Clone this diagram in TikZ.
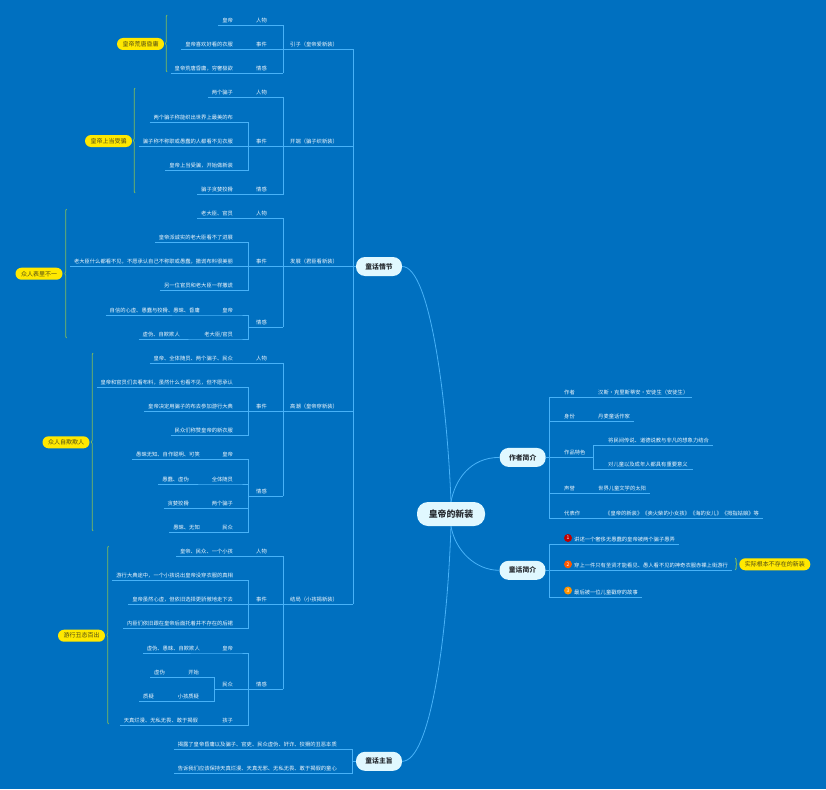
\documentclass[tikz,border=0pt]{standalone}
\usepackage{fontspec}
\setmainfont{Noto Sans CJK SC}
\usepackage{xcolor}
\usetikzlibrary{decorations.pathreplacing}
\definecolor{BackBlue}{RGB}{0, 112, 192}
\definecolor{LinkBlue}{RGB}{72, 178, 248}
\definecolor{PaleText}{RGB}{240, 247, 252}
\definecolor{RootFill}{RGB}{224, 248, 255}
\definecolor{DarkText}{RGB}{40, 45, 50}
\definecolor{NoteYellow}{RGB}{255, 232, 0}
\definecolor{NoteText}{RGB}{80, 75, 20}
\definecolor{BraceGreen}{RGB}{130, 190, 90}
\tikzset{
  small text/.style={font=\fontsize{5.3}{6}\selectfont, text=PaleText, text height=4.6, text depth=0.6, inner ysep=2.2},
  leaf/.style={small text, anchor=south east, inner xsep=3.8},
  topic/.style={small text, anchor=south west, inner xsep=7.5, text width=19.5, align=left},
  branch/.style={small text, anchor=south west, inner xsep=7, text width=56, align=left},
  rlabel/.style={small text, anchor=south west, inner xsep=14.7},
  rvalue/.style={small text, anchor=south west, inner xsep=3.8},
  link/.style={draw=LinkBlue, line width=0.8pt},
  rootnode/.style={fill=RootFill, text=DarkText, font=\fontsize{6.8}{8}\selectfont\bfseries, minimum width=46, minimum height=19, rounded corners=9, inner sep=0},
  callout/.style={fill=NoteYellow, text=NoteText, font=\fontsize{6}{7}\selectfont, minimum height=12, inner xsep=5.5, inner ysep=0, rounded corners=6},
  bracket/.style={draw=BraceGreen, line width=0.8pt, decorate, decoration={brace, amplitude=1.6pt}},
  badge/.style={circle, text=white, font=\fontsize{5}{6}\selectfont, minimum size=8, inner sep=0}
}
\begin{document}
\begin{tikzpicture}[x=1pt, y=-1pt]
  \useasboundingbox (0,0) rectangle (826,789);
  \fill[BackBlue] (0,0) rectangle (826,789);

  \node[rootnode, font=\fontsize{8.9}{10}\selectfont\bfseries, minimum width=68, minimum height=24, rounded corners=11] (root) at (451,514) {皇帝的新装};
  \node[rootnode] (plot) at (379,266.5) {童话情节};
  \node[rootnode] (theme) at (379,761.3) {童话主旨};
  \node[rootnode] (author) at (522.7,457.4) {作者简介};
  \node[rootnode] (brief) at (522.5,570.3) {童话简介};
  \draw[link] (plot.east) .. controls (430,266.5) and (447,400) .. (root.north);
  \draw[link] (theme.east) .. controls (430,761.3) and (447,640) .. (root.south);
  \draw[link] (root.north) .. controls (455,480) and (470,457.4) .. (author.west);
  \draw[link] (root.south) .. controls (455,550) and (475,570.3) .. (brief.west);

  \node[branch] (intro) at (283,49.5) {引子（皇帝爱新装）};
  \node[branch] (opening) at (283,146) {开端（骗子织新装）};
  \node[branch] (rising) at (283,266.5) {发展（君臣看新装）};
  \node[branch] (climax) at (283,411.3) {高潮（皇帝穿新装）};
  \node[branch] (ending) at (283,604.3) {结局（小孩揭新装）};
  \draw[link] (intro.south east) -- (ending.south east);
  \draw[link] (rising.south east) -- (plot.west);

  % 引子
  \node[topic] (introWho) at (248.5,25.3) {人物};
  \node[topic] (introEvent) at (248.5,49.5) {事件};
  \node[topic] (introFeel) at (248.5,73.3) {情感};
  \node[leaf] (introA) at (237,25.3) {皇帝};
  \node[leaf] (introB) at (237,49.5) {皇帝喜欢好看的衣服};
  \node[leaf] (introC) at (237,73.3) {皇帝荒唐昏庸，穷奢极欲};
  \draw[link] (introA.south west) -- (introWho.south east) -- (introFeel.south east);
  \draw[link] (introB.south west) -- (intro.south east);
  \draw[link] (introC.south west) -- (introFeel.south east);
  \node[callout] (noteIntro) at (140.5,44) {皇帝荒唐昏庸};
  \coordinate (noteIntroA) at (167,72);
  \coordinate (noteIntroB) at (167,15);
  \draw[bracket] (noteIntroA) -- (noteIntroB);

  % 开端
  \node[topic] (openWho) at (248.5,97.5) {人物};
  \node[topic] (openEvent) at (248.5,146) {事件};
  \node[topic] (openFeel) at (248.5,194.5) {情感};
  \node[leaf] (openA) at (237,97.5) {两个骗子};
  \node[leaf] (openB) at (237,122) {两个骗子称能织出世界上最美的布};
  \node[leaf] (openC) at (237,146) {骗子称不称职或愚蠢的人都看不见衣服};
  \node[leaf] (openD) at (237,170.5) {皇帝上当受骗，开始做新装};
  \node[leaf] (openE) at (237,194.5) {骗子贪婪狡猾};
  \draw[link] (openA.south west) -- (openWho.south east) -- (openFeel.south east);
  \draw[link] (openB.south west) -| (openEvent.south west);
  \draw[link] (openC.south west) -- (opening.south east);
  \draw[link] (openD.south west) -| (openEvent.south west);
  \draw[link] (openE.south west) -- (openFeel.south east);
  \node[callout] (noteOpen) at (108.5,141) {皇帝上当受骗};
  \coordinate (noteOpenA) at (135,193);
  \coordinate (noteOpenB) at (135,88);
  \draw[bracket] (noteOpenA) -- (noteOpenB);

  % 发展
  \node[topic] (riseWho) at (248.5,218.3) {人物};
  \node[topic] (riseEvent) at (248.5,266.5) {事件};
  \node[topic] (riseFeel) at (248.5,327.3) {情感};
  \node[leaf] (riseA) at (237,218.3) {老大臣、官员};
  \node[leaf] (riseB) at (237,242.3) {皇帝派诚实的老大臣看不了进展};
  \node[leaf] (riseC) at (237,266.5) {老大臣什么都看不见，不愿承认自己不称职或愚蠢，撒谎布料很美丽};
  \node[leaf] (riseD) at (237,290.7) {另一位官员和老大臣一样撒谎};
  \node[leaf] (riseE) at (203.8,315) {自信的心虚、愚蠢与狡猾、愚昧、昏庸};
  \node[leaf] (riseEn) at (237,315) {皇帝};
  \node[leaf] (riseF) at (183.8,339) {虚伪、自欺欺人};
  \node[leaf] (riseFn) at (237,339) {老大臣/官员};
  \draw[link] (riseA.south west) -- (riseWho.south east) -- (riseFeel.south east);
  \draw[link] (riseB.south west) -| (riseEvent.south west);
  \draw[link] (riseC.south west) -- (plot.west);
  \draw[link] (riseD.south west) -| (riseEvent.south west);
  \draw[link] (riseE.south west) -- (riseEn.south east) -| (riseFeel.south west);
  \draw[link] (riseF.south west) -- (riseFn.south east) -| (riseFeel.south west);
  \draw[link] (riseFeel.south west) -- (riseFeel.south east);
  \node[callout] (noteRise) at (39,273.7) {众人表里不一};
  \coordinate (noteRiseA) at (66.5,338);
  \coordinate (noteRiseB) at (66.5,209);
  \draw[bracket] (noteRiseA) -- (noteRiseB);

  % 高潮
  \node[topic] (peakWho) at (248.5,363.3) {人物};
  \node[topic] (peakEvent) at (248.5,411.3) {事件};
  \node[topic] (peakFeel) at (248.5,496.3) {情感};
  \node[leaf] (peakA) at (237,363.3) {皇帝、全体随员、两个骗子、民众};
  \node[leaf] (peakB) at (237,387.3) {皇帝和官员们去看布料，虽然什么也看不见，但不愿承认};
  \node[leaf] (peakC) at (237,411.3) {皇帝决定用骗子的布去参加游行大典};
  \node[leaf] (peakD) at (237,435.3) {民众们称赞皇帝的新衣服};
  \node[leaf] (peakE) at (203.8,459.7) {愚昧无知、自作聪明、可笑};
  \node[leaf] (peakEn) at (237,459.7) {皇帝};
  \node[leaf] (peakF) at (192.8,484) {愚蠢、虚伪};
  \node[leaf] (peakFn) at (237,484) {全体随员};
  \node[leaf] (peakG) at (192.8,508.3) {贪婪狡猾};
  \node[leaf] (peakGn) at (237,508.3) {两个骗子};
  \node[leaf] (peakH) at (203.8,532.3) {愚昧、无知};
  \node[leaf] (peakHn) at (237,532.3) {民众};
  \draw[link] (peakA.south west) -- (peakWho.south east) -- (peakFeel.south east);
  \draw[link] (peakB.south west) -| (peakEvent.south west);
  \draw[link] (peakC.south west) -- (climax.south east);
  \draw[link] (peakD.south west) -| (peakEvent.south west);
  \draw[link] (peakE.south west) -- (peakEn.south east) -| (peakFeel.south west);
  \draw[link] (peakF.south west) -- (peakFn.south east) -| (peakFeel.south west);
  \draw[link] (peakG.south west) -- (peakGn.south east) -| (peakFeel.south west);
  \draw[link] (peakH.south west) -- (peakHn.south east) -| (peakFeel.south west);
  \draw[link] (peakFeel.south west) -- (peakFeel.south east);
  \node[callout] (notePeak) at (66,442.3) {众人自欺欺人};
  \coordinate (notePeakA) at (93,531);
  \coordinate (notePeakB) at (93,353);
  \draw[bracket] (notePeakA) -- (notePeakB);

  % 结局
  \node[topic] (endWho) at (248.5,556) {人物};
  \node[topic] (endEvent) at (248.5,604.3) {事件};
  \node[topic] (endFeel) at (248.5,689) {情感};
  \node[topic] (endCrowd) at (214.7,689) {民众};
  \node[leaf] (endA) at (237,556) {皇帝、民众、一个小孩};
  \node[leaf] (endB) at (237,580.3) {游行大典途中，一个小孩说出皇帝没穿衣服的真相};
  \node[leaf] (endC) at (237,604.3) {皇帝虽然心虚，但依旧选择更骄傲地走下去};
  \node[leaf] (endD) at (237,628.7) {内臣们依旧跟在皇帝后面托着并不存在的后裙};
  \node[leaf] (endE) at (203.8,653) {虚伪、愚昧、自欺欺人};
  \node[leaf] (endEn) at (237,653) {皇帝};
  \node[leaf] (endF) at (168.8,677) {虚伪};
  \node[leaf] (endFn) at (203,677) {开始};
  \node[leaf] (endG) at (157.8,701.3) {质疑};
  \node[leaf] (endGn) at (203,701.3) {小孩质疑};
  \node[leaf] (endH) at (202,725.3) {天真烂漫、无私无畏、敢于揭假};
  \node[leaf] (endHn) at (237,725.3) {孩子};
  \draw[link] (endA.south west) -- (endWho.south east) -- (endFeel.south east);
  \draw[link] (endB.south west) -| (endEvent.south west);
  \draw[link] (endC.south west) -- (ending.south east);
  \draw[link] (endD.south west) -| (endEvent.south west);
  \draw[link] (endE.south west) -- (endEn.south east) -| (endFeel.south west);
  \draw[link] (endH.south west) -- (endHn.south east) -| (endFeel.south west);
  \draw[link] (endF.south west) -- (endFn.south east) -| (endCrowd.south west);
  \draw[link] (endG.south west) -- (endGn.south east) -| (endCrowd.south west);
  \draw[link] (endCrowd.south west) -- (endFeel.south east);
  \node[callout] (noteEnd) at (81.5,635.7) {游行丑态百出};
  \coordinate (noteEndA) at (108.5,724);
  \coordinate (noteEndB) at (108.5,546);
  \draw[bracket] (noteEndA) -- (noteEndB);

  % 童话主旨
  \coordinate (themeBus) at (352.7,761.3);
  \node[leaf] (themeA) at (340.8,749.3) {揭露了皇帝昏庸以及骗子、官吏、民众虚伪、奸诈、狡猾的丑恶本质};
  \node[leaf] (themeB) at (340.8,773.3) {告诉我们应该保持天真烂漫、天真无邪、无私无畏、敢于揭假的童心};
  \draw[link] (themeA.south west) -| (themeBus);
  \draw[link] (themeB.south west) -| (themeBus);
  \draw[link] (themeBus) -- (theme.west);

  % 作者简介
  \node[rlabel] (writer) at (549.3,397) {作者};
  \node[rlabel] (status) at (549.3,421.3) {身份};
  \node[rlabel] (style) at (549.3,457.4) {作品特色};
  \node[rlabel] (fame) at (549.3,493.7) {声誉};
  \node[rlabel] (works) at (549.3,518) {代表作};
  \node[rvalue] (writerV) at (594.2,397) {汉斯·克里斯蒂安·安徒生（安徒生）};
  \node[rvalue] (statusV) at (594.2,421.3) {丹麦童话作家};
  \node[rlabel] (styleA) at (593.3,445.3) {将民间传说、道德说教与非凡的想象力结合};
  \node[rlabel] (styleB) at (593.3,469.3) {对儿童以及成年人都具有重要意义};
  \node[rvalue] (fameV) at (594.2,493.7) {世界儿童文学的太阳};
  \node[rvalue] (worksV) at (601.2,518) {《皇帝的新装》《卖火柴的小女孩》《海的女儿》《拇指姑娘》等};
  \draw[link] (writer.south west) -- (works.south west);
  \draw[link] (writer.south west) -- (writerV.south east);
  \draw[link] (status.south west) -- (statusV.south east);
  \draw[link] (fame.south west) -- (fameV.south east);
  \draw[link] (works.south west) -- (worksV.south east);
  \draw[link] (styleA.south west) -- ++(119.7,0) (styleA.south west) -- (styleB.south west) -- ++(99.4,0);
  \draw[link] (styleA.south west) |- (author.east);

  % 童话简介
  \coordinate (briefTop) at (549.3,544.3);
  \coordinate (briefBot) at (549.3,597);
  \node[badge, fill=red!75!black] (numA) at (568,538) {1};
  \node[badge, fill=orange!70!red] (numB) at (568,564.3) {2};
  \node[badge, fill=orange!85!yellow] (numC) at (568,590.5) {3};
  \node[rvalue] (briefA) at (570.2,544.3) {讲述一个奢侈无愚蠢的皇帝被两个骗子愚弄};
  \node[rvalue] (briefB) at (570.2,570.3) {穿上一件只有圣贤才能看见、愚人看不见的神奇衣服赤裸上街游行};
  \node[rvalue] (briefC) at (570.2,597) {最后被一位儿童戳穿的故事};
  \draw[link] (briefTop) -- (briefBot);
  \draw[link] (briefTop) -- (briefA.south east);
  \draw[link] (briefBot) -- (briefC.south east);
  \draw[link] (brief.east) -- (briefB.south east);
  \node[callout] (noteBrief) at (774.8,564.3) {实际根本不存在的新装};
  \coordinate (noteBriefA) at (735.3,558);
  \coordinate (noteBriefB) at (735.3,570);
  \draw[bracket] (noteBriefA) -- (noteBriefB);
\end{tikzpicture}
\end{document}
